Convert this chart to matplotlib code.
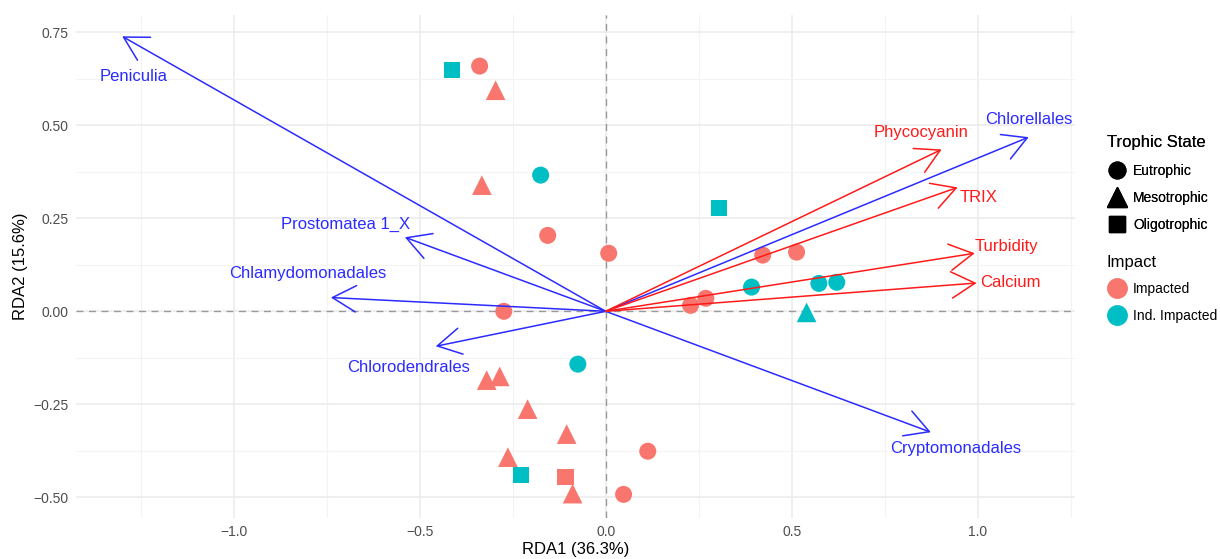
import matplotlib.pyplot as plt
from matplotlib.lines import Line2D

# site scores
site_x = [-0.414, -0.339, -0.296, -0.333, -0.175, 0.304, -0.156, 0.008, 0.422, 0.513,
          0.392, 0.573, 0.621, 0.269, 0.228, 0.540, -0.274, -0.075, -0.320, -0.285,
          -0.210, -0.105, -0.263, -0.228, -0.108, -0.089, 0.113, 0.048]
site_y = [0.648, 0.659, 0.594, 0.339, 0.366, 0.277, 0.204, 0.156, 0.151, 0.159,
          0.065, 0.075, 0.078, 0.035, 0.016, -0.003, 0.000, -0.142, -0.185, -0.175,
          -0.263, -0.330, -0.392, -0.440, -0.446, -0.490, -0.376, -0.492]
trophic = ['Oligotrophic', 'Eutrophic', 'Mesotrophic', 'Mesotrophic', 'Eutrophic', 'Oligotrophic',
           'Eutrophic', 'Eutrophic', 'Eutrophic', 'Eutrophic', 'Eutrophic', 'Eutrophic',
           'Eutrophic', 'Eutrophic', 'Eutrophic', 'Mesotrophic', 'Eutrophic', 'Eutrophic',
           'Mesotrophic', 'Mesotrophic', 'Mesotrophic', 'Mesotrophic', 'Mesotrophic', 'Oligotrophic',
           'Oligotrophic', 'Mesotrophic', 'Eutrophic', 'Eutrophic']
impact = ['Ind. Impacted', 'Impacted', 'Impacted', 'Impacted', 'Ind. Impacted', 'Ind. Impacted',
          'Impacted', 'Impacted', 'Impacted', 'Impacted', 'Ind. Impacted', 'Ind. Impacted',
          'Ind. Impacted', 'Impacted', 'Impacted', 'Ind. Impacted', 'Impacted', 'Ind. Impacted',
          'Impacted', 'Impacted', 'Impacted', 'Impacted', 'Impacted', 'Ind. Impacted',
          'Impacted', 'Impacted', 'Impacted', 'Impacted']

# taxa arrows (blue)
taxa = ['Peniculia', 'Prostomatea 1_X', 'Chlamydomonadales', 'Chlorodendrales',
        'Cryptomonadales', 'Chlorellales']
taxa_x = [-1.30, -0.54, -0.739, -0.457, 0.874, 1.137]
taxa_y = [0.739, 0.199, 0.037, -0.094, -0.325, 0.468]
taxa_lab_x = [-1.27, -0.70, -0.80, -0.53, 0.94, 1.137]
taxa_lab_y = [0.63, 0.234, 0.102, -0.15, -0.369, 0.516]

# environmental arrows (red)
env = ['Phycocyanin', 'TRIX', 'Turbidity', 'Calcium']
env_x = [0.903, 0.946, 0.992, 0.997]
env_y = [0.435, 0.333, 0.156, 0.076]
env_lab_x = [0.847, 1.003, 1.078, 1.089]
env_lab_y = [0.48, 0.307, 0.175, 0.078]

plt.rcParams['font.family'] = ['Liberation Sans', 'DejaVu Sans']

shapes = {'Eutrophic': ('o', 150), 'Mesotrophic': ('^', 200), 'Oligotrophic': ('s', 140)}
colors = {'Impacted': '#F8766D', 'Ind. Impacted': '#00BFC4'}

fig = plt.figure(figsize=(12.2, 5.59), dpi=100)
ax = fig.add_axes([0.062, 0.073, 0.819, 0.9])

ax.set_xlim(-1.425, 1.261)
ax.set_ylim(-0.556, 0.796)

ax.set_xticks([-1.0, -0.5, 0.0, 0.5, 1.0])
ax.set_xticklabels(['\u22121.0', '\u22120.5', '0.0', '0.5', '1.0'])
ax.set_yticks([-0.5, -0.25, 0.0, 0.25, 0.5, 0.75])
ax.set_yticklabels(['\u22120.50', '\u22120.25', '0.00', '0.25', '0.50', '0.75'])
ax.set_xticks([-1.25, -0.75, -0.25, 0.25, 0.75, 1.25], minor=True)
ax.set_yticks([-0.375, -0.125, 0.125, 0.375, 0.625], minor=True)
ax.grid(which='major', color='#EBEBEB', lw=1.1)
ax.grid(which='minor', color='#F3F3F3', lw=0.8)
ax.set_axisbelow(True)
ax.tick_params(which='both', length=0, labelsize=10, labelcolor='#4D4D4D', pad=5)
for s in ax.spines.values():
    s.set_visible(False)

ax.axhline(0, color='#999999', lw=1, ls=(0, (5, 4)), zorder=1)
ax.axvline(0, color='#999999', lw=1, ls=(0, (5, 4)), zorder=1)

# points
for x, y, t, imp in zip(site_x, site_y, trophic, impact):
    m, s = shapes[t]
    ax.scatter(x, y, marker=m, s=s, color=colors[imp], edgecolors='none', zorder=2)

def draw_arrow(x, y, color):
    ax.annotate('', xy=(x, y), xytext=(0, 0),
                arrowprops=dict(arrowstyle='->,head_length=1.7,head_width=0.95',
                                color=color, lw=1.1, shrinkA=0, shrinkB=0,
                                mutation_scale=10), zorder=3)

for name, x, y, lx, ly in zip(taxa, taxa_x, taxa_y, taxa_lab_x, taxa_lab_y):
    draw_arrow(x, y, '#2B2BFF')
    ax.text(lx, ly, name, color='#2B2BFF', fontsize=12, ha='center', va='center', zorder=4)

for name, x, y, lx, ly in zip(env, env_x, env_y, env_lab_x, env_lab_y):
    draw_arrow(x, y, '#FF1A1A')
    ax.text(lx, ly, name, color='#FF1A1A', fontsize=12, ha='center', va='center', zorder=4)

ax.set_xlabel('RDA1 (36.3%)', fontsize=12, labelpad=2)
ax.set_ylabel('RDA2 (15.6%)', fontsize=12, labelpad=4)

# legends
shape_handles = [Line2D([], [], marker=shapes[k][0], color='black', ls='none',
                        markersize=12 if k != 'Mesotrophic' else 14, label=k)
                 for k in ['Eutrophic', 'Mesotrophic', 'Oligotrophic']]
color_handles = [Line2D([], [], marker='o', color=colors[k], ls='none', markersize=14, label=k)
                 for k in ['Impacted', 'Ind. Impacted']]

leg1 = fig.legend(handles=shape_handles, title='Trophic State', loc='upper left',
                  bbox_to_anchor=(0.897, 0.78), frameon=False, fontsize=10,
                  title_fontsize=12, handletextpad=0.4, labelspacing=0.95,
                  alignment='left', handlelength=1.5)
leg2 = fig.legend(handles=color_handles, title='Impact', loc='upper left',
                  bbox_to_anchor=(0.897, 0.567), frameon=False, fontsize=10,
                  title_fontsize=12, handletextpad=0.4, labelspacing=0.9,
                  alignment='left', handlelength=1.5)
fig.add_artist(leg1)

fig.savefig('out.png', dpi=100)
